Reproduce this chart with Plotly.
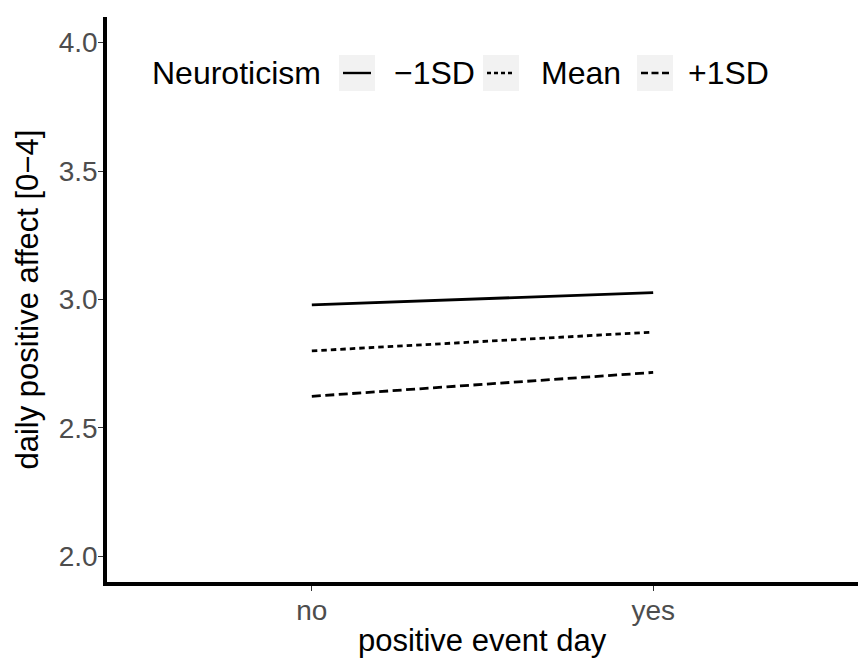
import plotly.graph_objects as go

categories = ["no", "yes"]
groups = ["\u22121SD", "Mean", "+1SD"]
values_m1sd = [2.979, 3.027]
values_mean = [2.800, 2.873]
values_p1sd = [2.623, 2.716]
y_ticks = [2.0, 2.5, 3.0, 3.5, 4.0]
legend_title = "Neuroticism"
x_title = "positive event day"
y_title = "daily positive affect [0\u22124]"

series = [values_m1sd, values_mean, values_p1sd]
dashes = ["solid", "5.5px,4px", "9px,4.5px"]
key_dashes = ["solid", "4px,3px", "7px,3.5px"]

FONT = "Liberation Sans, Arial, sans-serif"
W, H = 861, 662
L, R, T, B = 107, 3, 17, 80
pw, ph = W - L - R, H - T - B

def px2x(px):
    return (px - L) / pw

def py2y(py):
    return (H - B - py) / ph

fig = go.Figure()
for name, vals, d in zip(groups, series, dashes):
    fig.add_trace(go.Scatter(x=categories, y=vals, mode="lines", name=name,
                             line=dict(color="black", width=2.8, dash=d),
                             showlegend=False, hoverinfo="skip"))

# ggplot-style legend with grey key backgrounds
shapes = []
annotations = []
key_x = [339, 483, 637]
text_x = [392, 539, 686]
ly = 73
for kx, tx, name, d in zip(key_x, text_x, groups, key_dashes):
    shapes.append(dict(type="rect", xref="paper", yref="paper",
                       x0=px2x(kx), x1=px2x(kx + 36), y0=py2y(ly + 18), y1=py2y(ly - 18),
                       fillcolor="#f2f2f2", line=dict(width=0), layer="below"))
    shapes.append(dict(type="line", xref="paper", yref="paper",
                       x0=px2x(kx + 4), x1=px2x(kx + 32), y0=py2y(ly), y1=py2y(ly),
                       line=dict(color="black", width=2.4, dash=d)))
    annotations.append(dict(text=name, xref="paper", yref="paper", x=px2x(tx), y=py2y(ly),
                            xanchor="left", yanchor="middle", showarrow=False,
                            font=dict(family=FONT, size=32, color="black")))
annotations.append(dict(text=legend_title, xref="paper", yref="paper", x=px2x(150), y=py2y(ly),
                        xanchor="left", yanchor="middle", showarrow=False,
                        font=dict(family=FONT, size=32, color="black")))

# axis titles
annotations.append(dict(text=x_title, xref="paper", yref="paper", x=0.5, y=py2y(640),
                        xanchor="center", yanchor="middle", showarrow=False,
                        font=dict(family=FONT, size=31, color="black")))
annotations.append(dict(text=y_title, xref="paper", yref="paper", x=px2x(27), y=0.5,
                        xanchor="center", yanchor="middle", showarrow=False, textangle=-90,
                        font=dict(family=FONT, size=31, color="black")))

fig.update_layout(
    width=W, height=H,
    margin=dict(l=L, r=R, t=T, b=B),
    plot_bgcolor="white", paper_bgcolor="white",
    font=dict(family=FONT, size=28, color="black"),
    shapes=shapes, annotations=annotations,
    xaxis=dict(type="category", categoryorder="array", categoryarray=categories,
               range=[-0.6, 1.6], showgrid=False, zeroline=False,
               showline=True, linecolor="black", linewidth=3.5,
               ticks="outside", ticklen=5, tickcolor="#333333", tickwidth=1.2,
               ticklabelstandoff=-4,
               tickfont=dict(family=FONT, size=28, color="#4d4d4d")),
    yaxis=dict(range=[1.9, 4.1], tickvals=y_ticks, tickformat=".1f",
               showgrid=False, zeroline=False,
               showline=True, linecolor="black", linewidth=3.5,
               ticks="outside", ticklen=5, tickcolor="#333333", tickwidth=1.2,
               ticklabelstandoff=-5,
               tickfont=dict(family=FONT, size=28, color="#4d4d4d")),
)

fig.write_html("out.html", config={"displayModeBar": False},
               post_script="document.body.style.margin='0';document.body.style.overflow='hidden';")
